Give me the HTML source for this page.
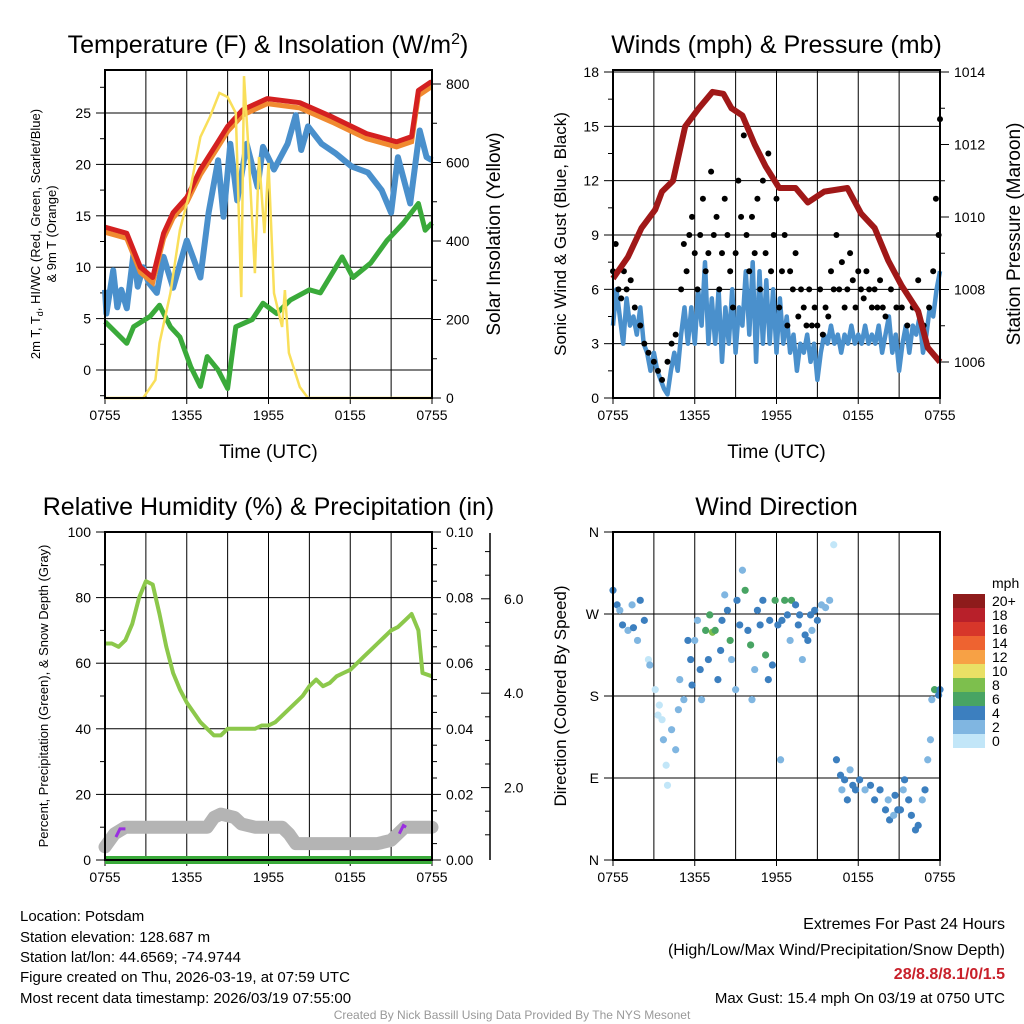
<!DOCTYPE html>
<html><head><meta charset="utf-8"><style>
html,body{margin:0;padding:0;background:#fff}
svg{display:block;font-family:"Liberation Sans",Arial,sans-serif}
</style></head><body>
<svg id="s" width="1024" height="1024" viewBox="0 0 1024 1024" xmlns="http://www.w3.org/2000/svg">
<g id="g1"></g>
<g id="g2"></g>
<g id="g3"></g>
<g id="g4"></g>
<g font-size="15" fill="#000">
<text x="20" y="921">Location: Potsdam</text>
<text x="20" y="942">Station elevation: 128.687 m</text>
<text x="20" y="962">Station lat/lon: 44.6569; -74.9744</text>
<text x="20" y="982">Figure created on Thu, 2026-03-19, at 07:59 UTC</text>
<text x="20" y="1003">Most recent data timestamp: 2026/03/19 07:55:00</text>
<text x="1005" y="929" text-anchor="end" font-size="16">Extremes For Past 24 Hours</text>
<text x="1005" y="955" text-anchor="end" font-size="16">(High/Low/Max Wind/Precipitation/Snow Depth)</text>
<text x="1005" y="979" text-anchor="end" font-size="16" font-weight="bold" fill="#c8202a">28/8.8/8.1/0/1.5</text>
<text x="1005" y="1003" text-anchor="end" font-size="15">Max Gust: 15.4 mph On 03/19 at 0750 UTC</text>
<text x="512" y="1019" text-anchor="middle" font-size="12" fill="#999">Created By Nick Bassill Using Data Provided By The NYS Mesonet</text>
</g>
</svg>
<script>
// ---------- data ----------
const xTickLabels=["0755","1355","1955","0155","0755"];
// Panel 1
const tempT=[0,1.6,2.6,3.5,4.3,5,6,7,8.2,9,10.1,11.9,14.3,16.7,19.2,21.4,22.5,23,23.9,24];
const tempRed=[13.9,13.3,10,9,13.3,15.3,16.8,19.5,22,23.7,25.3,26.4,26,24.6,23,22.2,22.7,27.2,28,28];
const tdT=[0,0.1,0.6,0.9,1.2,1.6,2.1,2.4,2.8,3.2,3.8,4.3,5,6,7,7.6,8.3,8.7,9.2,9.7,10.4,11.2,11.6,12.4,13.4,14,14.4,14.9,15.9,16.9,18.1,19.3,20.3,21,21.5,22.4,23.1,23.6,24];
const tdBlue=[7.8,5.5,9.7,6.1,7.8,6,11.4,8.1,10,8.5,7.5,11,8,12.6,9,15.3,20.4,14.9,22,16.5,22,17.8,21.7,19.5,22,24.8,21.4,23.7,22,21.1,19.8,19.2,17.5,15.3,20.7,16.2,23.3,20.7,20.4];
const hiT=[0,1.6,2.1,3.3,4,4.8,5.5,6.3,7,7.5,8.3,9,9.6,10.8,11.6,12.6,13.6,15,15.8,17.4,18.2,19.5,20.7,21.2,21.9,23,23.5,24];
const hiGreen=[4.7,2.6,4.2,5.2,6.3,4.2,3.2,0.3,-1.6,1.3,0,-1.8,4.2,4.9,6.5,5.5,6.8,7.8,7.5,11,9,10.4,12.6,13.3,14.3,16.2,13.6,14.3];
const solT=[0,2.8,3.7,4,4.8,5.5,6.2,7,7.7,8.4,9,9.6,10,10.2,10.5,11,11.3,11.7,12,12.4,13,13.2,13.5,14.3,14.9,24];
const solar=[0,0,46,140,267,428,522,665,716,777,767,726,257,820,650,318,614,420,599,267,181,275,115,28,0,0];
// Panel 2
const presT=[0,1.1,2.1,3.1,3.6,4.4,5.3,6.3,7.3,8.1,8.7,9.5,10.4,11.2,12.2,13.4,14.3,15.5,17.2,18.2,19.2,20.2,21.2,22.4,23.1,24];
const pressure=[1008.3,1008.9,1009.7,1010.2,1010.7,1011,1012.5,1013,1013.45,1013.4,1013,1012.8,1012,1011.4,1010.8,1010.8,1010.4,1010.7,1010.8,1010.1,1009.7,1008.8,1008.1,1007.4,1006.4,1006];
const windT=[0,0.25,0.5,0.75,1,1.25,1.5,1.75,2,2.25,2.5,2.75,3,3.25,3.5,3.75,4,4.25,4.5,4.75,5,5.25,5.5,5.75,6,6.25,6.5,6.75,7,7.25,7.5,7.75,8,8.25,8.5,8.75,9,9.25,9.5,9.75,10,10.25,10.5,10.75,11,11.25,11.5,11.75,12,12.25,12.5,12.75,13,13.25,13.5,13.75,14,14.25,14.5,14.75,15,15.25,15.5,15.75,16,16.25,16.5,16.75,17,17.25,17.5,17.75,18,18.25,18.5,18.75,19,19.25,19.5,19.75,20,20.25,20.5,20.75,21,21.25,21.5,21.75,22,22.25,22.5,22.75,23,23.25,23.5,23.75,24];
const windSpd=[4,6,4.5,3,5.5,4,4.5,3.5,5,3,2.5,1.5,2.5,1.5,1,0.5,0.2,1.5,2.5,1.5,3.5,5,3,5,3,6,4,7.5,3,5.5,3,6,2,5,3,6,2.5,5,4,7,3.5,7.5,2,7,3,6.5,3,6,2.5,5.5,3,4.5,2.5,3.5,1.5,3,2.5,3.5,2,3,1,2.5,3.5,3,4,3,3.5,2.5,3.5,3,4,3,3.5,3,4,3,3.5,3,4,2.5,3.5,4.5,2.5,3.5,1.5,3,4,2.5,4,3.5,4.5,2.5,3.5,5,4.5,6,7];
const gustT=[0,0.2,0.4,0.6,0.8,1,1.3,1.6,2,2.3,2.6,3,3.3,3.6,4,4.3,4.6,5,5.2,5.4,5.6,5.8,6,6.2,6.4,6.6,6.8,7,7.2,7.4,7.6,7.8,8,8.2,8.4,8.6,8.8,9,9.2,9.4,9.6,9.8,10,10.2,10.4,10.6,10.8,11,11.2,11.4,11.6,11.8,12,12.2,12.4,12.6,12.8,13,13.2,13.4,13.6,13.8,14,14.2,14.4,14.6,14.8,15,15.2,15.4,15.6,15.8,16,16.2,16.4,16.6,16.8,17,17.2,17.4,17.6,17.8,18,18.2,18.4,18.6,18.8,19,19.2,19.4,19.6,19.8,20,20.4,20.8,21.2,21.6,22,22.4,22.8,23.2,23.5,23.7,23.9,24];
const gustV=[7,8.5,6,5.5,7,6,6.5,5,4,3,2.5,2,1.5,1,2,3,3.5,6,8.5,7,9,10,8,6,9,11,7,8,12.5,9,10,6,8,11,9,7,5,8,12,10,14.5,9,7,10,8,11,6,12,8,13.5,7,9,11,5,7,9,4,7,6,8,4.5,6,5,4,6,4,5,4,6,3.5,5,4.5,7,6,9,6,7.5,5,6,8,6.5,5,7,6,5.5,7,6,5,6,5,6.5,5,4.5,6,5,5,4,5,6.5,4,5,7,11,9,15.4];
// Panel 3
const rhT=[0,0.5,1,1.5,2,2.5,3,3.5,4,4.5,5,5.5,6,6.5,7,7.5,8,8.5,9,9.5,10,10.5,11,11.5,12,12.5,13,14,14.5,15,15.5,16,16.5,17,17.5,18,18.5,19,19.5,20,20.5,21,21.5,22,22.5,23,23.3,24];
const rh=[66,66,65,67,72,80,85,84,75,65,57,52,48,45,42,40,38,38,40,40,40,40,40,41,41,42,44,48,50,53,55,53,54,56,57,58,60,62,64,66,68,70,71,73,75,70,57,56];
const snowT=[0,0.7,1.5,5,7.5,8,8.5,9.5,10,11,12,13,13.5,14,16,20,21,21.5,22,24];
const snowPct=[4,8,10,10,10,13,14,13,11,10,10,10,8,5,5,5,6,8,10,10];
// Panel 4
const dirT=[0,0.3,0.5,0.7,1.1,1.5,1.8,1.4,2,2.3,2.6,2.7,3.1,3.3,3.4,3.6,3.7,3.9,4,4.3,4.6,4.8,4.9,5.2,5.5,5.7,5.8,6,6.2,6.4,6.5,6.8,7,7.1,7.3,7.5,7.7,7.9,8,8.2,8.4,8.6,8.7,9,9.1,9.3,9.5,9.7,9.9,10.1,10.2,10.4,10.6,10.8,11,11.2,11.4,11.5,11.7,11.9,12.1,12.3,12.4,12.6,12.8,13,13.1,13.4,13.6,13.7,13.9,14.1,14.3,14.5,14.6,14.8,15,15.3,15.6,15.9,16.2,16.4,16.7,16.8,17,17.2,17.4,17.6,17.8,18.1,18.5,18.9,19.2,19.6,20,20.2,20.3,20.6,20.7,20.9,21.1,21.3,21.4,21.7,21.9,22.2,22.4,22.7,22.9,23.1,23.3,23.4,23.6,23.9,24];
const dirDeg=[296,280,274,258,252,255,241,280,285,263,220,214,187,159,170,154,132,104,82,143,121,165,198,176,241,220,192,241,263,209,176,252,220,269,250,252,198,230,263,291,274,241,220,187,285,258,318,296,252,236,176,209,274,258,285,225,198,263,214,285,258,110,263,285,269,241,285,280,258,269,220,247,241,269,252,274,263,280,277,285,346,110,93,77,88,66,99,82,77,88,77,82,66,77,55,66,44,49,71,55,55,77,88,66,49,33,38,66,77,110,132,176,187,181,187];
const dirSpd=[4,4,3,4,3,4,3,3,4,4,1,2,1,1,1,1,2,1,1,2,2,2,3,3,4,5,4,3,3,4,2,6,4,6,8,7,4,5,4,3,4,6,3,2,5,5,3,6,4,6,2,3,4,4,5,6,4,4,5,7,4,2,5,6,4,3,7,5,4,4,3,5,4,4,3,4,4,3,3,2,1,4,4,3,4,4,3,4,5,4,3,4,4,5,4,2,4,3,5,4,4,3,4,4,5,4,4,3,4,3,2,3,6,5,5];
const cbLabels=["20+","18","16","14","12","10","8","6","4","2","0"];
const cbColors=["#8e1b1b","#b8202a","#d7362a","#ee6330","#f7a145","#e9e065","#7dbf4d","#48a463","#3c7fbf","#80b6e1","#c2e6f8"];

// ---------- helpers ----------
const NS="http://www.w3.org/2000/svg";
function mk(parent,tag,attrs,name,text){const e=document.createElementNS(NS,tag);for(const k in attrs)e.setAttribute(k,attrs[k]);


if(text!==undefined)e.textContent=text;parent.appendChild(e);return e;}
function path(xs,ys,fx,fy){return xs.map((t,i)=>(i?'L':'M')+fx(t).toFixed(1)+','+fy(ys[i]).toFixed(1)).join('');}
function frame(g,x0,y0,title,xlabel){
  const W=327,H=328;
  for(let k=1;k<8;k++){const x=x0+k*W/8;mk(g,'line',{x1:x,y1:y0,x2:x,y2:y0+H,stroke:'#000','stroke-width':1},'x-gridline');}
  for(let k=0;k<5;k++){const x=x0+k*W/4;mk(g,'line',{x1:x,y1:y0+H,x2:x,y2:y0+H+6,stroke:'#000'},'x-tick');
   mk(g,'text',{x:x,y:y0+H+22,'text-anchor':'middle','font-size':14},'x-tick-label',xTickLabels[k]);}
  if(title)mk(g,'text',{x:x0+W/2,y:y0-17,'text-anchor':'middle','font-size':25},'panel-title',title);
  if(xlabel)mk(g,'text',{x:x0+W/2,y:y0+H+60,'text-anchor':'middle','font-size':19},'x-axis-title',xlabel);
}
function border(g,x0,y0){mk(g,'rect',{x:x0,y:y0,width:327,height:328,fill:'none',stroke:'#000','stroke-width':2},'plot-border');}
function yAxis(g,x,side,fy,vals,labels,minors,gridX0){
  const d=side<0?-1:1;
  minors.forEach(v=>mk(g,'line',{x1:x,y1:fy(v),x2:x+d*5,y2:fy(v),stroke:'#000'},'y-minor-tick'));
  vals.forEach((v,i)=>{const y=fy(v);
    if(gridX0!==undefined)mk(g,'line',{x1:gridX0,y1:y,x2:gridX0+327,y2:y,stroke:'#000'},'y-gridline');
    mk(g,'line',{x1:x,y1:y,x2:x+d*9,y2:y,stroke:'#000'},'y-tick');
    mk(g,'text',{x:x+d*14,y:y+5,'text-anchor':side<0?'end':'start','font-size':14},'y-tick-label',labels[i]);});
}
const tx0=x=>h=>x+h*327/24;

// ---------- Panel 1 ----------
(function(){const g=document.getElementById('g1');const X0=105,Y0=70;const fx=tx0(X0);
 const fy=v=>370-(v)*10.28; const fs=v=>Math.max(70,398-v*0.3925);
 frame(g,X0,Y0,null,"Time (UTC)");
 const tt=mk(g,'text',{x:268,y:53,'text-anchor':'middle','font-size':25},'panel-title');
 tt.innerHTML='Temperature (F) &amp; Insolation (W/m<tspan dy="-9" font-size="16">2</tspan><tspan dy="9">)</tspan>';
 const gv=[0,5,10,15,20,25],mn=[-2.5,2.5,7.5,12.5,17.5,22.5,27.5];
 yAxis(g,X0,-1,fy,gv,gv.map(String),mn,X0);
 yAxis(g,X0+327,1,fs,[0,200,400,600,800],["0","200","400","600","800"],[100,300,500,700],undefined);
 mk(g,'path',{d:path(hiT,hiGreen,fx,fy),fill:'none',stroke:'#3aaa3a','stroke-width':5,'stroke-linejoin':'round'},'heat-index-line');
 mk(g,'path',{d:path(tdT,tdBlue,fx,fy),fill:'none',stroke:'#4a90cc','stroke-width':6,'stroke-linejoin':'round'},'dewpoint-line');
 mk(g,'path',{d:path(tempT,tempRed.map(v=>v-0.5),fx,fy),fill:'none',stroke:'#f08a30','stroke-width':5},'9m-temp-line');
 mk(g,'path',{d:path(tempT,tempRed,fx,fy),fill:'none',stroke:'#d42020','stroke-width':5,'stroke-linejoin':'round'},'2m-temp-line');
 mk(g,'path',{d:path(solT,solar,fx,fs),fill:'none',stroke:'#f9df5a','stroke-width':2.5},'solar-insolation-line');
 border(g,X0,Y0);
 const yl=mk(g,'text',{transform:'translate(40,234) rotate(-90)','text-anchor':'middle','font-size':13},'left-y-axis-title');
 yl.innerHTML='<tspan x="0" dy="0">2m T, T<tspan font-size="9" dy="3">d</tspan><tspan dy="-3">, HI/WC (Red, Green, Scarlet/Blue)</tspan></tspan><tspan x="0" dy="16">&amp; 9m T (Orange)</tspan>';
 mk(g,'text',{transform:'translate(500,234) rotate(-90)','text-anchor':'middle','font-size':19},'right-y-axis-title','Solar Insolation (Yellow)');
})();

// ---------- Panel 2 ----------
(function(){const g=document.getElementById('g2');const X0=613,Y0=70;const fx=tx0(X0);
 const fy=v=>398-v*326/18; const fp=v=>362-(v-1006)*36.25;
 frame(g,X0,Y0,'Winds (mph) & Pressure (mb)',"Time (UTC)");
 const gv=[0,3,6,9,12,15,18];
 yAxis(g,X0,-1,fy,gv,gv.map(String),[1.5,4.5,7.5,10.5,13.5,16.5],X0);
 yAxis(g,X0+327,1,fp,[1006,1008,1010,1012,1014],["1006","1008","1010","1012","1014"],[1007,1009,1011,1013],undefined);
 mk(g,'path',{d:path(windT,windSpd,fx,fy),fill:'none',stroke:'#4a90cc','stroke-width':4.5,'stroke-linejoin':'round'},'sonic-wind-line');
 gustT.forEach((t,i)=>{
  mk(g,'circle',{cx:fx(t),cy:fy(gustV[i]),r:3,fill:'#000'},'gust-point');
 });
 mk(g,'path',{d:path(presT,pressure,fx,fp),fill:'none',stroke:'#a01818','stroke-width':6,'stroke-linejoin':'round'},'pressure-line');
 border(g,X0,Y0);
 mk(g,'text',{transform:'translate(566,234) rotate(-90)','text-anchor':'middle','font-size':17},'left-y-axis-title','Sonic Wind & Gust (Blue, Black)');
 mk(g,'text',{transform:'translate(1020,234) rotate(-90)','text-anchor':'middle','font-size':19},'right-y-axis-title','Station Pressure (Maroon)');
})();

// ---------- Panel 3 ----------
(function(){const g=document.getElementById('g3');const X0=105,Y0=532;const fx=tx0(X0);
 const fy=v=>860-v*3.28; const fpr=v=>860-v*3280; const fsd=v=>882-v*47.2;
 frame(g,X0,Y0,'Relative Humidity (%) & Precipitation (in)',null);
 const gv=[0,20,40,60,80,100];
 yAxis(g,X0,-1,fy,gv,gv.map(String),[10,30,50,70,90],X0);
 yAxis(g,X0+327,1,fpr,[0,0.02,0.04,0.06,0.08,0.1],["0.00","0.02","0.04","0.06","0.08","0.10"],[0.005,0.01,0.015,0.025,0.03,0.035,0.045,0.05,0.055,0.065,0.07,0.075,0.085,0.09,0.095],undefined);
 mk(g,'line',{x1:490,y1:533,x2:490,y2:860,stroke:'#000','stroke-width':1.5},'snow-depth-axis');
 yAxis(g,490,-1,fsd,[2,4,6],["","",""],[1,1.5,2.5,3,3.5,4.5,5,5.5,6.5,7],undefined);
 [[2,"2.0"],[4,"4.0"],[6,"6.0"]].forEach(a=>mk(g,'text',{x:504,y:fsd(a[0])+5,'font-size':14},'snow-depth-tick-label',a[1]));
 mk(g,'path',{d:path(snowT,snowPct,fx,fy),fill:'none',stroke:'#b4b4b4','stroke-width':13,'stroke-linecap':'round','stroke-linejoin':'round'},'snow-depth-line');
 mk(g,'path',{d:'M'+fx(0.8)+','+fy(7)+'L'+fx(1.1)+','+fy(9.5)+'L'+fx(1.5)+','+fy(9.5),fill:'none',stroke:'#9a2fe0','stroke-width':3},'snow-depth-purple-1');
 mk(g,'path',{d:'M'+fx(21.6)+','+fy(8)+'L'+fx(21.9)+','+fy(10.5)+'L'+fx(22.1)+','+fy(10),fill:'none',stroke:'#9a2fe0','stroke-width':3},'snow-depth-purple-2');
 mk(g,'path',{d:path(rhT,rh,fx,fy),fill:'none',stroke:'#8cc84b','stroke-width':4,'stroke-linejoin':'round'},'relative-humidity-line');
 mk(g,'line',{x1:X0,y1:fy(0),x2:X0+327,y2:fy(0),stroke:'#3aaa3a','stroke-width':8},'precipitation-line');
 border(g,X0,Y0);
 mk(g,'text',{transform:'translate(48,696) rotate(-90)','text-anchor':'middle','font-size':13},'left-y-axis-title','Percent, Precipitation (Green), & Snow Depth (Gray)');
})();

// ---------- Panel 4 ----------
(function(){const g=document.getElementById('g4');const X0=613,Y0=532;const fx=tx0(X0);
 const fy=v=>860-v*328/360;
 frame(g,X0,Y0,'Wind Direction',null);
 yAxis(g,X0,-1,fy,[0,90,180,270,360],["N","E","S","W","N"],[],X0);
 function col(s){const i=Math.min(10,Math.floor(s/2));return cbColors[10-i];}
 dirT.forEach((t,i)=>{
  mk(g,'circle',{cx:fx(t),cy:fy(dirDeg[i]),r:3.6,fill:col(dirSpd[i])},'direction-point');
 });
 border(g,X0,Y0);
 mk(g,'text',{transform:'translate(566,696) rotate(-90)','text-anchor':'middle','font-size':17},'left-y-axis-title','Direction (Colored By Speed)');
 mk(g,'text',{x:992,y:588,'font-size':14},'colorbar-unit','mph');
 cbColors.forEach((c,i)=>{mk(g,'rect',{x:953,y:594+i*14,width:32,height:14,fill:c},'colorbar-swatch');
  mk(g,'text',{x:992,y:594+i*14+12,'font-size':14},'colorbar-label',cbLabels[i]);});
})();
</script>
</body></html>
